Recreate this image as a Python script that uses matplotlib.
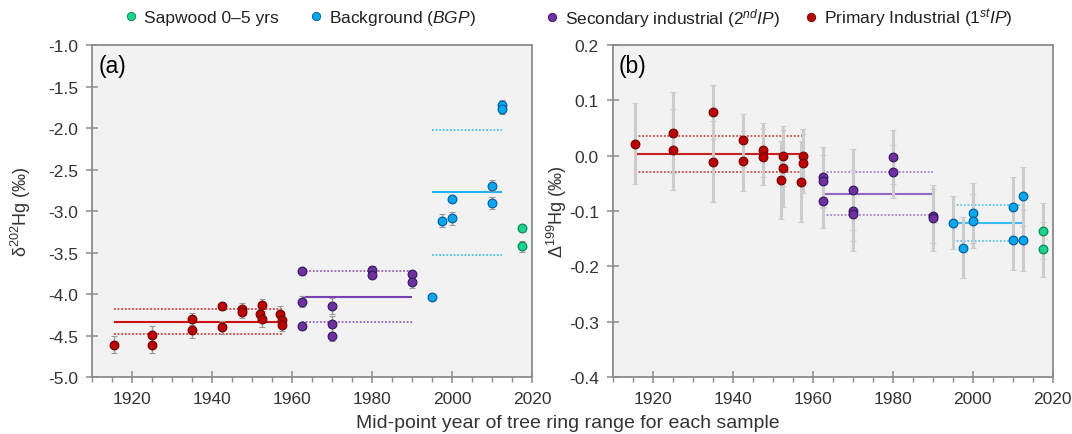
import numpy as np
import matplotlib.pyplot as plt
from matplotlib.lines import Line2D
from matplotlib.ticker import MultipleLocator

plt.rcParams['font.family'] = ['Liberation Sans', 'DejaVu Sans']
plt.rcParams['mathtext.fontset'] = 'custom'
plt.rcParams['mathtext.rm'] = 'Liberation Sans'
plt.rcParams['mathtext.it'] = 'Liberation Sans:italic'
plt.rcParams['mathtext.bf'] = 'Liberation Sans:bold'

# mid-point years of the sampled ring ranges
red_year = [1915.5, 1925, 1925, 1935, 1935, 1942.5, 1942.5, 1947.5, 1947.5,
            1952, 1952.5, 1952.5, 1957, 1957.5, 1957.5]
purple_year = [1962.5, 1962.5, 1962.5, 1970, 1970, 1970, 1980, 1980, 1990, 1990]
blue_year = [1995, 1997.5, 2000, 2000, 2010, 2010, 2012.5, 2012.5]
green_year = [2017.5, 2017.5]

# (a) d202Hg
red_d202 = [-4.61, -4.61, -4.49, -4.30, -4.43, -4.14, -4.40, -4.18, -4.22,
            -4.245, -4.13, -4.30, -4.245, -4.31, -4.37]
red_d202_err = [0.1, 0.1, 0.1, 0.07, 0.1, 0.05, 0.08, 0.07, 0.07,
                0.07, 0.07, 0.1, 0.1, 0.07, 0.07]
purple_d202 = [-3.727, -4.09, -4.38, -4.145, -4.365, -4.51, -3.706, -3.766, -3.763, -3.85]
purple_d202_err = [0.04, 0.07, 0.04, 0.1, 0.1, 0.05, 0.04, 0.04, 0.04, 0.077]
blue_d202 = [-4.04, -3.116, -3.088, -2.855, -2.694, -2.904, -1.718, -1.775]
blue_d202_err = [0.03, 0.075, 0.075, 0.03, 0.07, 0.07, 0.06, 0.06]
green_d202 = [-3.21, -3.425]
green_d202_err = [0.03, 0.07]

# (b) D199Hg
red_D199 = [0.022, 0.0415, 0.011, 0.079, -0.011, 0.028, -0.010, 0.010, -0.002,
            -0.044, 0.0, -0.023, -0.047, 0.0, -0.014]
red_D199_err = [0.073, 0.073, 0.073, 0.049, 0.073, 0.048, 0.054, 0.049, 0.05,
                0.07, 0.054, 0.07, 0.073, 0.049, 0.054]
purple_D199 = [-0.039, -0.046, -0.0825, -0.0615, -0.099, -0.105, -0.0024, -0.029, -0.1085, -0.113]
purple_D199_err = [0.054, 0.048, 0.049, 0.073, 0.073, 0.05, 0.049, 0.048, 0.049, 0.06]
blue_D199 = [-0.121, -0.166, -0.103, -0.118, -0.092, -0.1525, -0.0735, -0.1525]
blue_D199_err = [0.048, 0.055, 0.054, 0.048, 0.054, 0.054, 0.054, 0.055]
green_D199 = [-0.136, -0.169]
green_D199_err = [0.05, 0.05]

red, red_edge = '#c00000', '#6e0000'
purple, purple_edge = '#7030a0', '#2f1660'
blue, blue_edge = '#00a8f0', '#005a9a'
green, green_edge = '#16d68c', '#0a7f4f'

fig = plt.figure(figsize=(10.72, 4.35), dpi=100)
ax_a = fig.add_axes([0.0858, 0.131, 0.4104, 0.763])
ax_b = fig.add_axes([0.5716, 0.131, 0.4104, 0.763])


def plot_group(ax, yr, val, err, col, edge, lines, line_col, ecol, elw):
    ax.errorbar(yr, val, yerr=err, fmt='o', ms=6.3, mfc=col, mec=edge, mew=0.8,
                ecolor=ecol, elinewidth=elw, capsize=2.5, capthick=0.9, zorder=3)
    if not lines:
        return
    m = np.mean(val)
    s = np.std(val, ddof=1)
    x0, x1 = min(yr), max(yr)
    ax.hlines(m, x0, x1, colors=line_col, lw=1.5, zorder=2)
    ax.hlines([m - s, m + s], x0, x1, colors=line_col, lw=1.3,
              linestyles=(0, (1, 1)), zorder=2, alpha=0.8)


groups_a = [
    (red_year, red_d202, red_d202_err, red, red_edge, True, '#d01010'),
    (purple_year, purple_d202, purple_d202_err, purple, purple_edge, True, '#7a3fb0'),
    (blue_year, blue_d202, blue_d202_err, blue, blue_edge, True, '#20b4f0'),
    (green_year, green_d202, green_d202_err, green, green_edge, False, None),
]
groups_b = [
    (red_year, red_D199, red_D199_err, red, red_edge, True, '#c82020'),
    (purple_year, purple_D199, purple_D199_err, purple, purple_edge, True, '#9466c4'),
    (blue_year, blue_D199, blue_D199_err, blue, blue_edge, True, '#38bdf0'),
    (green_year, green_D199, green_D199_err, green, green_edge, False, None),
]

for g in groups_a:
    plot_group(ax_a, *g, ecol='#9a9a9a', elw=1.0)
for g in groups_b:
    plot_group(ax_b, *g, ecol='#cccccc', elw=2.2)

for ax in (ax_a, ax_b):
    ax.set_facecolor('#f2f2f2')
    ax.set_xlim(1910, 2020)
    ax.xaxis.set_major_locator(MultipleLocator(20))
    ax.xaxis.set_minor_locator(MultipleLocator(5))
    for sp in ax.spines.values():
        sp.set_color('#8c8c8c')
        sp.set_linewidth(1.3)
    ax.tick_params(which='major', direction='inout', length=8, width=1.1,
                   color='#8c8c8c', labelcolor='#333333', labelsize=12.5)
    ax.tick_params(axis='y', which='major', pad=6)
    ax.tick_params(axis='x', which='major', pad=6)
    ax.tick_params(axis='x', which='minor', direction='out', length=3.5, width=1.0,
                   color='#8c8c8c')

ax_a.set_ylim(-5.0, -1.0)
ax_a.yaxis.set_major_locator(MultipleLocator(0.5))
ax_a.yaxis.set_major_formatter(lambda v, p: f'{v:.1f}')
ax_b.set_ylim(-0.4, 0.2)
ax_b.yaxis.set_major_locator(MultipleLocator(0.1))
ax_b.yaxis.set_major_formatter(lambda v, p: f'{v:.1f}')

ax_a.set_ylabel('δ$^{202}$Hg (‰)', fontsize=13, color='#333333')
ax_a.yaxis.set_label_coords(-0.134, 0.5)
ax_b.set_ylabel('Δ$^{199}$Hg (‰)', fontsize=13, color='#333333')
ax_b.yaxis.set_label_coords(-0.1, 0.5)

ax_a.text(0.014, 0.972, '(a)', transform=ax_a.transAxes, ha='left', va='top', fontsize=16.5)
ax_b.text(0.014, 0.972, '(b)', transform=ax_b.transAxes, ha='left', va='top', fontsize=16.5)

fig.text(0.53, 0.026, 'Mid-point year of tree ring range for each sample',
         ha='center', va='center', fontsize=14, color='#333333')

# legend, one entry at a time so the uneven spacing can be matched
leg_items = [
    (green, green_edge, 'Sapwood 0–5 yrs', 0.114),
    (blue, blue_edge, 'Background ($\\it{BGP}$)', 0.287),
    (purple, purple_edge, 'Secondary industrial (2$^{nd}$$\\it{IP}$)', 0.507),
    (red, red_edge, 'Primary Industrial (1$^{st}$$\\it{IP}$)', 0.748),
]
for col, edge, lab, xpos in leg_items:
    h = Line2D([], [], ls='none', marker='o', ms=6, mfc=col, mec=edge, mew=0.6)
    fig.legend(handles=[h], labels=[lab], loc='center left', bbox_to_anchor=(xpos, 0.958),
               frameon=False, borderpad=0, borderaxespad=0, handlelength=1.0,
               handletextpad=0.25, fontsize=12.5, labelcolor='#222222')

fig.savefig('out.png', dpi=100)
